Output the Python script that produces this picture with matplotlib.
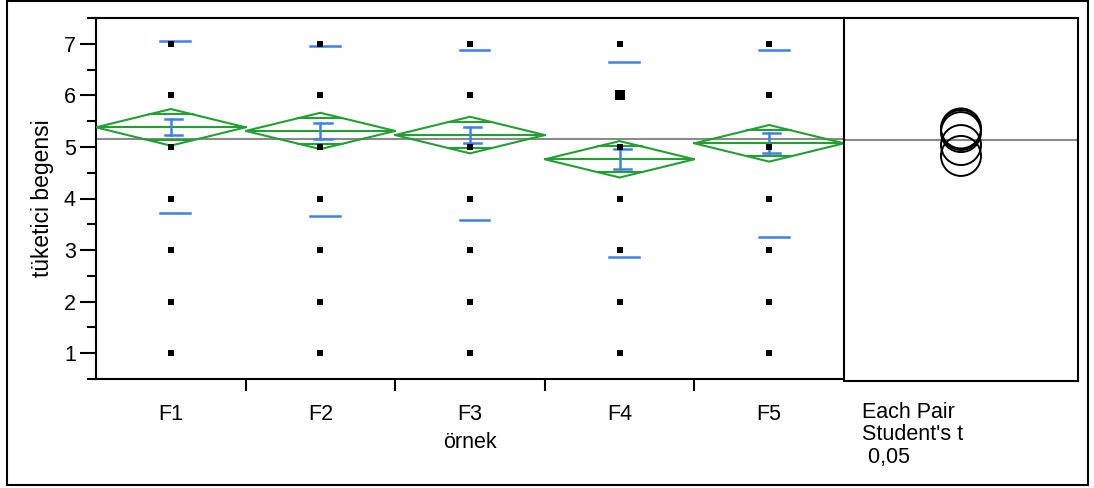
import matplotlib
matplotlib.use("Agg")
import matplotlib.pyplot as plt
from matplotlib.patches import Ellipse, Rectangle, Polygon
import numpy as np

plt.rcParams['font.family'] = ['Liberation Sans', 'DejaVu Sans']

# ---- data ----
categories = ["F1", "F2", "F3", "F4", "F5"]
point_values = [1, 2, 3, 4, 5, 6, 7]
dense_point = {"F4": 6}          # heavier point (overplotted) in F4 at 6
means = [5.38, 5.31, 5.23, 4.76, 5.07]
ci_half = [0.355, 0.352, 0.355, 0.353, 0.355]   # 95% CI half widths (diamonds)
se_half = [0.158, 0.152, 0.158, 0.191, 0.194]   # mean error bars
std_dev = [1.67, 1.64, 1.64, 1.89, 1.81]        # std dev lines
grand_mean = 5.15
circle_centers = [5.37, 5.34, 5.30, 4.84, 5.05]
ylabel = "tüketici begensi"
xlabel = "örnek"
test_lines = ["Each Pair", "Student's t", " 0,05"]

W, H = 1094, 488
fig = plt.figure(figsize=(W / 100, H / 100), dpi=100)

GREEN = "#22a032"
BLUE = "#3f7fe6"
GREY = "#8a8a8a"
FS = 15.5
LW = 1.5

# main axes
L, R, T, B = 96, 844, 18, 379
ax = fig.add_axes([L / W, 1 - B / H, (R - L) / W, (B - T) / H])
ax.set_xlim(-0.5, len(categories) - 0.5)
ax.set_ylim(0.5, 7.5)

for i, cat in enumerate(categories):
    m, c, s, sd = means[i], ci_half[i], se_half[i], std_dev[i]
    # diamond
    diamond = Polygon([[i - 0.5, m], [i, m + c], [i + 0.5, m], [i, m - c]],
                      closed=True, fill=False, edgecolor=GREEN, lw=LW, zorder=3)
    ax.add_patch(diamond)
    ax.plot([i - 0.5, i + 0.5], [m, m], color=GREEN, lw=LW, zorder=3)
    d = c / np.sqrt(2)
    hw = 0.5 * (1 - d / c)
    for yy in (m + d, m - d):
        ax.plot([i - hw, i + hw], [yy, yy], color=GREEN, lw=LW, zorder=3)
    # std dev lines
    for yy in (m + sd, m - sd):
        ax.plot([i - 0.07, i + 0.13], [yy, yy], color=BLUE, lw=LW + 0.3, zorder=4)
    # mean error bar
    ax.plot([i, i], [m - s, m + s], color=BLUE, lw=LW + 0.3, zorder=4)
    for yy in (m - s, m + s):
        ax.plot([i - 0.04, i + 0.075], [yy, yy], color=BLUE, lw=LW + 0.3, zorder=4)
    # points
    for v in point_values:
        ms = 7.5 if dense_point.get(cat) == v else 3.8
        ax.plot([i], [v], marker="s", color="black", ms=ms, mew=0,
                linestyle="none", zorder=6)

ax.axhline(grand_mean, color=GREY, lw=LW, zorder=2)

ax.spines["right"].set_visible(False)
for sp in ["left", "top", "bottom"]:
    ax.spines[sp].set_linewidth(LW)

ax.set_yticks(point_values)
ax.set_yticks(np.arange(0.5, 7.51, 1.0), minor=True)
ax.tick_params(axis="y", which="major", length=11.5, width=LW, labelsize=FS, pad=3)
ax.tick_params(axis="y", which="minor", length=6.5, width=LW)
ax.set_xticks(range(len(categories)))
ax.set_xticklabels(categories)
ax.set_xticks(np.arange(0.5, len(categories) - 1, 1.0), minor=True)
ax.tick_params(axis="x", which="major", length=0, labelsize=FS, pad=18)
ax.tick_params(axis="x", which="minor", length=8.6, width=LW)
ax.set_ylabel(ylabel, fontsize=16.5, labelpad=7)
ax.set_xlabel(xlabel, fontsize=FS, labelpad=5)

# comparison circles panel
R2 = 1078
ax2 = fig.add_axes([R / W, 1 - 381 / H, (R2 - R) / W, (381 - T) / H])
ax2.set_xlim(0, 1)
ax2.set_ylim(0.5, 7.5)
ax2.set_xticks([])
ax2.set_yticks([])
for sp in ax2.spines.values():
    sp.set_linewidth(LW)
ax2.axhline(grand_mean, color=GREY, lw=LW, zorder=1)
px_per_unit_y = (381 - T) / 7.0
r_px = 20
for cy in circle_centers:
    e = Ellipse((0.5, cy), width=2 * r_px / (R2 - R), height=2 * r_px / px_per_unit_y,
                fill=False, edgecolor="black", lw=1.4, zorder=3)
    ax2.add_patch(e)

for k, line in enumerate(test_lines):
    fig.text(862 / W, 1 - (412 + 23 * k) / H, line, fontsize=FS,
             ha="left", va="center")

# outer frame
fig.patches.append(Rectangle((7 / W, 3 / H), (1088 - 7) / W, (486 - 2) / H,
                             transform=fig.transFigure, fill=False,
                             edgecolor="black", lw=LW))

fig.savefig("out.png", dpi=100)
